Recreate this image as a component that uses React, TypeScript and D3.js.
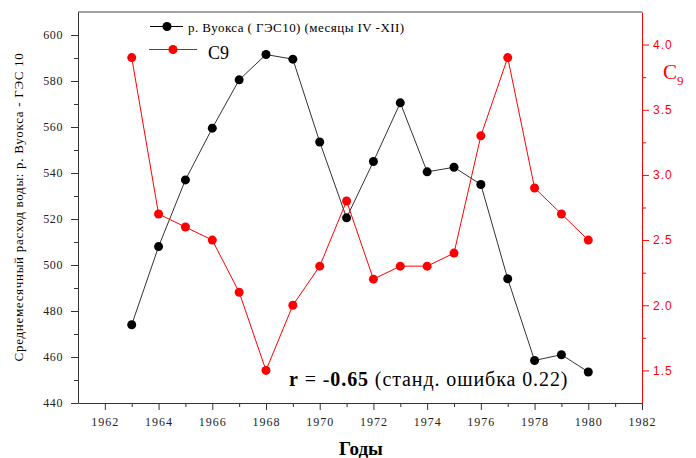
import * as d3 from 'd3';
import { useRef, useEffect } from 'react';

// years on the x axis
const years = [1963, 1964, 1965, 1966, 1967, 1968, 1969, 1970, 1971, 1972, 1973, 1974, 1975, 1976, 1977, 1978, 1979, 1980];
// Vuoksa river mean monthly discharge (GES-10), months IV-XII
const flow = [474, 508, 537, 559.5, 580.5, 591.5, 589.5, 553.5, 520.5, 545, 570.5, 540.5, 542.5, 535, 494, 458.5, 461, 453.5];
// C9 index (right axis)
const c9 = [3.9, 2.7, 2.6, 2.5, 2.1, 1.5, 2.0, 2.3, 2.8, 2.2, 2.3, 2.3, 2.4, 3.3, 3.9, 2.9, 2.7, 2.5];

const leftTicks = [440, 460, 480, 500, 520, 540, 560, 580, 600];
const rightTicks = [1.5, 2.0, 2.5, 3.0, 3.5, 4.0];
const yearTicks = [1962, 1964, 1966, 1968, 1970, 1972, 1974, 1976, 1978, 1980, 1982];

const serif = '"Liberation Serif", "Times New Roman", serif';
const sans = '"Liberation Sans", Arial, sans-serif';

export default function App() {
  const width = 696;
  const height = 458;
  const margin = { top: 12, right: 54, bottom: 55, left: 78 };
  const innerWidth = width - margin.left - margin.right;
  const innerHeight = height - margin.top - margin.bottom;

  const xScale = d3.scaleLinear().domain([1961, 1982]).range([0, innerWidth]);
  const yLeft = d3.scaleLinear().domain([440, 610]).range([innerHeight, 0]);
  const yRight = d3.scaleLinear().domain([1.25, 4.25]).range([innerHeight, 0]);

  const leftRef = useRef(null);
  const leftMinorRef = useRef(null);
  const bottomRef = useRef(null);
  const bottomMinorRef = useRef(null);
  const rightRef = useRef(null);
  const rightMinorRef = useRef(null);

  useEffect(() => {
    // left axis (discharge)
    d3.select(leftRef.current)
      .call(d3.axisLeft(yLeft).tickValues(leftTicks).tickSize(7).tickSizeOuter(0).tickPadding(8))
      .call(g => g.selectAll('path, line').attr('stroke', '#333'))
      .call(g => g.selectAll('text').attr('fill', '#222').style('font-family', serif).style('font-size', '12px').style('letter-spacing', '0.6px'));
    d3.select(leftMinorRef.current)
      .call(d3.axisLeft(yLeft).tickValues(d3.range(450, 600, 20)).tickSize(4).tickSizeOuter(0).tickFormat(() => ''))
      .call(g => g.select('path').remove())
      .call(g => g.selectAll('line').attr('stroke', '#333'));

    // bottom axis (years)
    d3.select(bottomRef.current)
      .call(d3.axisBottom(xScale).tickValues(yearTicks).tickSize(7).tickSizeOuter(0).tickPadding(7).tickFormat(d => String(d)))
      .call(g => g.selectAll('path, line').attr('stroke', '#333'))
      .call(g => g.selectAll('text').attr('fill', '#222').style('font-family', serif).style('font-size', '12px').style('letter-spacing', '1px'));
    d3.select(bottomMinorRef.current)
      .call(d3.axisBottom(xScale).tickValues(d3.range(1963, 1982, 2)).tickSize(4).tickSizeOuter(0).tickFormat(() => ''))
      .call(g => g.select('path').remove())
      .call(g => g.selectAll('line').attr('stroke', '#333'));

    // right axis (C9), red
    d3.select(rightRef.current)
      .call(d3.axisRight(yRight).tickValues(rightTicks).tickSize(7).tickSizeOuter(0).tickPadding(4).tickFormat(d3.format('.1f')))
      .call(g => g.selectAll('path, line').attr('stroke', '#ff0000'))
      .call(g => g.selectAll('text').attr('fill', '#ff0000').style('font-family', sans).style('font-size', '12px').style('letter-spacing', '1px'));
    d3.select(rightMinorRef.current)
      .call(d3.axisRight(yRight).tickValues(d3.range(1.75, 4, 0.5)).tickSize(4).tickSizeOuter(0).tickFormat(() => ''))
      .call(g => g.select('path').remove())
      .call(g => g.selectAll('line').attr('stroke', '#ff0000'));
  }, []);

  const flowLine = d3.line<number>()
    .x((_, i) => xScale(years[i]))
    .y(d => yLeft(d));
  const c9Line = d3.line<number>()
    .x((_, i) => xScale(years[i]))
    .y(d => yRight(d));

  return (
    <svg
      width={width}
      height={height}
      style={{ position: 'absolute', left: 0, top: 0, background: '#fff' }}
    >
      <g transform={`translate(${margin.left},${margin.top})`}>
        {/* top frame line */}
        <line x1={0} x2={innerWidth} y1={0} y2={0} stroke="#444" />

        <g ref={leftRef} />
        <g ref={leftMinorRef} />
        <g ref={bottomRef} transform={`translate(0,${innerHeight})`} />
        <g ref={bottomMinorRef} transform={`translate(0,${innerHeight})`} />
        <g ref={rightRef} transform={`translate(${innerWidth},0)`} />
        <g ref={rightMinorRef} transform={`translate(${innerWidth},0)`} />

        {/* discharge series */}
        <path d={flowLine(flow) || ''} fill="none" stroke="#333" strokeWidth={1} />
        {flow.map((d, i) => (
          <circle key={'f' + i} cx={xScale(years[i])} cy={yLeft(d)} r={4.5} fill="#000" />
        ))}

        {/* C9 series */}
        <path d={c9Line(c9) || ''} fill="none" stroke="#ff0000" strokeWidth={1} />
        {c9.map((d, i) => (
          <circle key={'c' + i} cx={xScale(years[i])} cy={yRight(d)} r={4.5} fill="#ff0000" />
        ))}

        {/* correlation note */}
        <text x={211} y={374} fontFamily={serif} fontSize={20} letterSpacing={0.9} fill="#000">
          <tspan fontWeight="bold">r</tspan>
          <tspan> = -</tspan>
          <tspan fontWeight="bold">0.65</tspan>
          <tspan> (станд. ошибка 0.22)</tspan>
        </text>
      </g>

      {/* legend */}
      <line x1={150} x2={183} y1={26.5} y2={26.5} stroke="#000" />
      <circle cx={167} cy={26.5} r={4.5} fill="#000" />
      <text x={188} y={32} fontFamily={serif} fontSize={13} letterSpacing={0.45} fill="#000">
        р. Вуокса ( ГЭС10) (месяцы IV -XII)
      </text>
      <line x1={149} x2={197} y1={49.5} y2={49.5} stroke="#ff0000" />
      <circle cx={173} cy={49.5} r={4.5} fill="#ff0000" />
      <text x={208} y={59} fontFamily={serif} fontSize={18} fill="#000">С9</text>

      {/* axis titles */}
      <text
        transform="translate(23,207) rotate(-90)"
        textAnchor="middle"
        fontFamily={serif}
        fontSize={13}
        letterSpacing={0.7}
        fill="#000"
      >
        Среднемесячный расход воды: р. Вуокса - ГЭС 10
      </text>
      <text x={663} y={79} fontFamily={serif} fontSize={21} fill="#ff0000">
        C<tspan fontSize={13} dy={6}>9</tspan>
      </text>
      <text x={361} y={455} textAnchor="middle" fontFamily={serif} fontSize={19} fontWeight="bold" fill="#000">
        Годы
      </text>
    </svg>
  );
}
